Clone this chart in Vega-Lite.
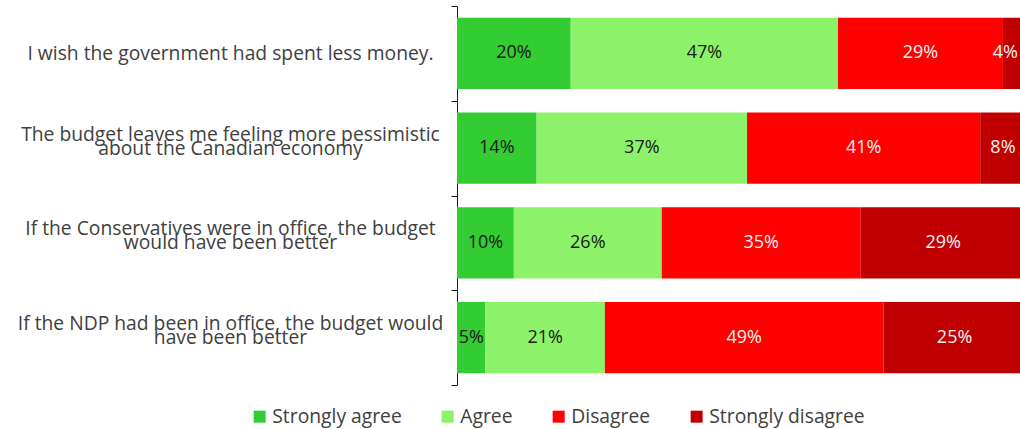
{
  "$schema": "https://vega.github.io/schema/vega-lite/v6.json",
  "width": 563,
  "height": 379,
  "autosize": {"type": "none"},
  "padding": {"left": 457, "top": 6, "right": 0, "bottom": 44},
  "background": "white",
  "config": {
    "view": {"stroke": null},
    "font": "Open Sans"
  },
  "data": {
    "values": [
      {"statement": "I wish the government had spent less money.", "response": "Strongly agree", "rank": 1, "value": 0.20},
      {"statement": "I wish the government had spent less money.", "response": "Agree", "rank": 2, "value": 0.47},
      {"statement": "I wish the government had spent less money.", "response": "Disagree", "rank": 3, "value": 0.29},
      {"statement": "I wish the government had spent less money.", "response": "Strongly disagree", "rank": 4, "value": 0.04},
      {"statement": "The budget leaves me feeling more pessimistic|about the Canadian economy", "response": "Strongly agree", "rank": 1, "value": 0.14},
      {"statement": "The budget leaves me feeling more pessimistic|about the Canadian economy", "response": "Agree", "rank": 2, "value": 0.37},
      {"statement": "The budget leaves me feeling more pessimistic|about the Canadian economy", "response": "Disagree", "rank": 3, "value": 0.41},
      {"statement": "The budget leaves me feeling more pessimistic|about the Canadian economy", "response": "Strongly disagree", "rank": 4, "value": 0.08},
      {"statement": "If the Conservatives were in office, the budget|would have been better", "response": "Strongly agree", "rank": 1, "value": 0.10},
      {"statement": "If the Conservatives were in office, the budget|would have been better", "response": "Agree", "rank": 2, "value": 0.26},
      {"statement": "If the Conservatives were in office, the budget|would have been better", "response": "Disagree", "rank": 3, "value": 0.35},
      {"statement": "If the Conservatives were in office, the budget|would have been better", "response": "Strongly disagree", "rank": 4, "value": 0.29},
      {"statement": "If the NDP had been in office, the budget would|have been better", "response": "Strongly agree", "rank": 1, "value": 0.05},
      {"statement": "If the NDP had been in office, the budget would|have been better", "response": "Agree", "rank": 2, "value": 0.21},
      {"statement": "If the NDP had been in office, the budget would|have been better", "response": "Disagree", "rank": 3, "value": 0.49},
      {"statement": "If the NDP had been in office, the budget would|have been better", "response": "Strongly disagree", "rank": 4, "value": 0.25}
    ]
  },
  "transform": [
    {"stack": "value", "groupby": ["statement"], "sort": [{"field": "rank", "order": "ascending"}], "as": ["v0", "v1"]}
  ],
  "encoding": {
    "y": {
      "field": "statement",
      "type": "nominal",
      "sort": null,
      "scale": {"paddingInner": 0, "paddingOuter": 0},
      "axis": {
        "title": null,
        "labelExpr": "length(split(datum.label, '|')) > 1 ? [split(datum.label, '|')[0], '\u00a0', split(datum.label, '|')[1]] : ['\u00a0', datum.label]",
        "labelAlign": "center",
        "labelBaseline": "middle",
        "labelPadding": 221,
        "labelLimit": 0,
        "labelFontSize": 19.3,
        "labelLineHeight": 14,
        "labelOffset": -14,
        "labelColor": "#404040",
        "tickBand": "extent",
        "tickSize": 6,
        "tickColor": "#1a1a1a",
        "domainColor": "#1a1a1a",
        "tickWidth": 1,
        "domainWidth": 1
      }
    }
  },
  "layer": [
    {
      "mark": {"type": "bar", "clip": true, "height": {"band": 0.75}},
      "encoding": {
        "x": {"field": "v0", "type": "quantitative", "scale": {"domain": [0, 0.99], "nice": false}, "axis": null},
        "x2": {"field": "v1"},
        "color": {
          "field": "response",
          "type": "nominal",
          "sort": ["Strongly agree", "Agree", "Disagree", "Strongly disagree"],
          "scale": {
            "domain": ["Strongly agree", "Agree", "Disagree", "Strongly disagree"],
            "range": ["#33cc33", "#8cf26a", "#ff0000", "#c00000"]
          },
          "legend": {
            "title": null,
            "orient": "none",
            "direction": "horizontal",
            "columns": 4,
            "legendX": -207,
            "legendY": 401,
            "symbolType": "square",
            "symbolSize": 144,
            "symbolStrokeWidth": 0,
            "symbolOpacity": 1,
            "labelFontSize": 19.3,
            "labelColor": "#404040",
            "labelOffset": 3,
            "columnPadding": 36,
            "labelLimit": 0
          }
        }
      }
    },
    {
      "mark": {"type": "text", "fontSize": 18, "baseline": "middle", "align": "center", "dx": {"expr": "datum.rank == 4 && datum.value < 0.05 ? -9 : 0"}},
      "encoding": {
        "x": {"field": "value", "type": "quantitative", "stack": "zero", "bandPosition": 0.5},
        "order": {"field": "rank", "type": "quantitative"},
        "detail": {"field": "response", "type": "nominal"},
        "text": {"field": "value", "type": "quantitative", "format": ".0%"},
        "color": {
          "condition": {"test": "datum.rank > 2", "value": "#f2f2f2"},
          "value": "#1a1a1a"
        }
      }
    }
  ]
}
